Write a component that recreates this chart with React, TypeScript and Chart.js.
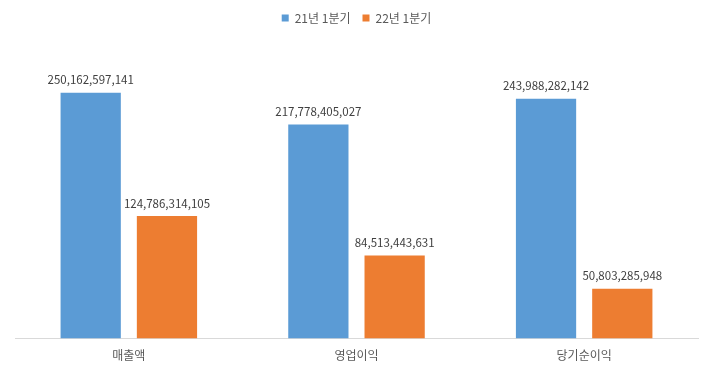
import React, { useEffect, useRef } from "react";
import { Chart, registerables } from "chart.js";

Chart.register(...registerables);

const categories = ["매출액", "영업이익", "당기순이익"];
const seriesNames = ["21년 1분기", "22년 1분기"];
const series2021 = [250162597141, 217778405027, 243988282142];
const series2022 = [124786314105, 84513443631, 50803285948];
const colors = ["#5B9BD5", "#ED7D31"];

const FONT = "'Noto Sans CJK KR', 'Noto Sans', sans-serif";

const valueLabels = {
  id: "valueLabels",
  afterDatasetsDraw(chart: any) {
    const ctx = chart.ctx;
    ctx.save();
    ctx.font = `11.5px ${FONT}`;
    ctx.fillStyle = "#404040";
    ctx.textAlign = "center";
    ctx.textBaseline = "bottom";
    chart.data.datasets.forEach((ds: any, i: number) => {
      const meta = chart.getDatasetMeta(i);
      meta.data.forEach((bar: any, j: number) => {
        const v = ds.data[j] as number;
        ctx.fillText(v.toLocaleString("en-US"), bar.x, bar.y - 7);
      });
    });
    ctx.restore();
  },
};

export default function App() {
  const ref = useRef<HTMLCanvasElement | null>(null);
  useEffect(() => {
    if (!ref.current) return;
    const chart = new Chart(ref.current, {
      type: "bar",
      data: {
        labels: categories,
        datasets: [
          { label: seriesNames[0], data: series2021, backgroundColor: colors[0] },
          { label: seriesNames[1], data: series2022, backgroundColor: colors[1] },
        ],
      },
      options: {
        animation: false,
        responsive: true,
        maintainAspectRatio: false,
        layout: { padding: { left: 15, right: 15, top: 0, bottom: 3 } },
        datasets: {
          bar: { categoryPercentage: 0.67, barPercentage: 0.79 },
        } as any,
        plugins: {
          legend: {
            position: "top",
            labels: {
              boxWidth: 7,
              boxHeight: 7,
              color: "#595959",
              font: { family: FONT, size: 12 },
              padding: 12,
            },
          },
          tooltip: { enabled: false },
        },
        scales: {
          x: {
            grid: { display: false, drawTicks: false },
            border: { display: true, color: "#D9D9D9", width: 1 },
            ticks: { color: "#595959", font: { family: FONT, size: 12 }, padding: 10 },
          },
          y: {
            display: false,
            min: 0,
            max: 310000000000,
          },
        },
      },
      plugins: [valueLabels],
    });
    return () => chart.destroy();
  }, []);
  return (
    <div style={{ position: "fixed", left: 0, top: 0, width: 713, height: 376, background: "#fff" }}>
      <canvas ref={ref} />
    </div>
  );
}
